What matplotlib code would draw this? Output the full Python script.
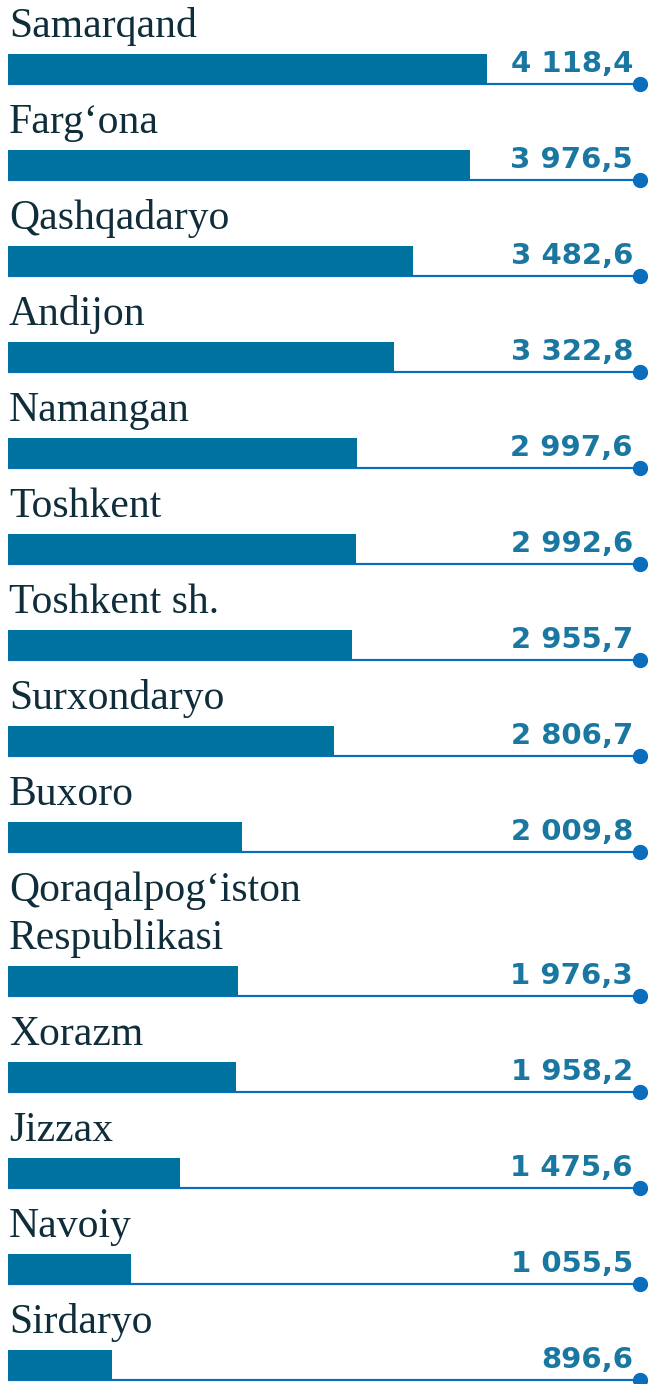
import matplotlib.pyplot as plt
import numpy as np

# viloyatlar va qiymatlar (yuqoridan pastga)
regions = ["Samarqand", "Farg\u2018ona", "Qashqadaryo", "Andijon", "Namangan",
           "Toshkent", "Toshkent sh.", "Surxondaryo", "Buxoro",
           "Qoraqalpog\u2018iston\nRespublikasi", "Xorazm", "Jizzax", "Navoiy", "Sirdaryo"]
values = [4118.4, 3976.5, 3482.6, 3322.8, 2997.6, 2992.6, 2955.7, 2806.7,
          2009.8, 1976.3, 1958.2, 1475.6, 1055.5, 896.6]
value_labels = ["4 118,4", "3 976,5", "3 482,6", "3 322,8", "2 997,6", "2 992,6",
                "2 955,7", "2 806,7", "2 009,8", "1 976,3", "1 958,2", "1 475,6",
                "1 055,5", "896,6"]

bar_color = "#00729f"
line_color = "#0a6ebd"
num_color = "#1a77a1"
name_color = "#0f2d3a"

W, H = 648, 1384
fig = plt.figure(figsize=(W / 100, H / 100), dpi=100)
ax = fig.add_axes([0, 0, 1, 1])

# pikselga mos masshtab: 4118,4 -> ~480 px
px_per_unit = 479 / 4118.4
left_px = 8
ax.set_xlim(-left_px / px_per_unit, (W - left_px) / px_per_unit)

# qatorlar orasidagi masofa; ikki qatorli nom uchun qo'shimcha joy
row_px = 96
y = []
cur = 0.0
for name in regions:
    if "\n" in name:
        cur += 0.5
    y.append(cur)
    cur += 1
y = np.array(y)
top = 84 / row_px
ax.set_ylim(y[-1] + (H - 1380) / row_px, -top)

bar_h = 30 / row_px
trans = ax.get_yaxis_transform()

# ingichka chiziq va oxiridagi nuqta
x0 = left_px / W
xdot = 640 / W
for yi in y:
    ax.plot([x0, xdot], [yi, yi], color=line_color, lw=1.6, transform=trans,
            zorder=1, solid_capstyle="butt")
    ax.plot([xdot], [yi], "o", color=line_color, ms=10, transform=trans,
            zorder=3, clip_on=False)

ax.barh(y - bar_h / 2, values, height=bar_h, color=bar_color, zorder=2)

for yi, name, lab in zip(y, regions, value_labels):
    ax.text(9 / W, yi - 47 / row_px, name, transform=trans, ha="left",
            va="baseline", fontsize=30, family="Liberation Serif",
            color=name_color, linespacing=1.3)
    ax.text(633 / W, yi - 12 / row_px, lab, transform=trans, ha="right",
            va="baseline", fontsize=21, fontweight="bold",
            family="DejaVu Sans", color=num_color)

ax.axis("off")
fig.savefig("out.png", dpi=100)
